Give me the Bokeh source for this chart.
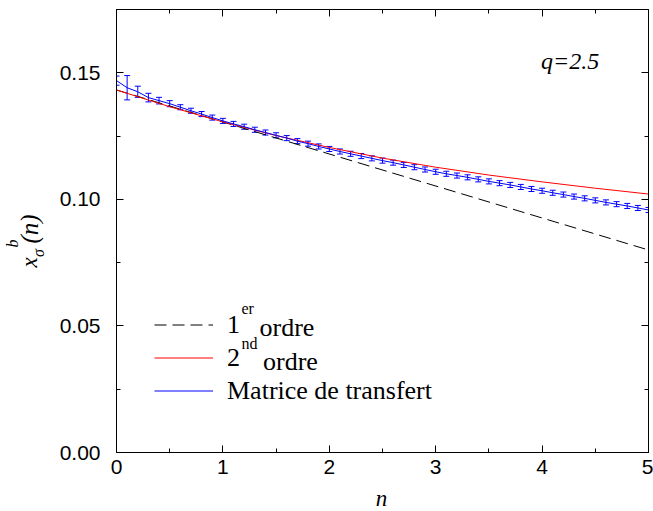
import math
from bokeh.plotting import figure
from bokeh.layouts import row, column
from bokeh.models import (Range1d, LinearAxis, FixedTicker, NumeralTickFormatter,
                          ColumnDataSource, Whisker, TeeHead, Legend, LegendItem, Label)
from bokeh.embed import file_html
from bokeh.resources import INLINE

# ---------------- data ----------------
n_mt = [0.0, 0.1, 0.2, 0.3, 0.4, 0.5, 0.6, 0.7, 0.8, 0.9,
        1.0, 1.1, 1.2, 1.3, 1.4, 1.5, 1.6, 1.7, 1.8, 1.9,
        2.0, 2.1, 2.2, 2.3, 2.4, 2.5, 2.6, 2.7, 2.8, 2.9,
        3.0, 3.1, 3.2, 3.3, 3.4, 3.5, 3.6, 3.7, 3.8, 3.9,
        4.0, 4.1, 4.2, 4.3, 4.4, 4.5, 4.6, 4.7, 4.8, 4.9, 5.0]
x_mt = [0.1469, 0.1441, 0.1425, 0.1402, 0.1390, 0.1378, 0.1364, 0.1350, 0.1337, 0.1323,
        0.1310, 0.1298, 0.1287, 0.1275, 0.1264, 0.1253, 0.1242, 0.1230, 0.1220, 0.1209,
        0.1199, 0.1189, 0.1180, 0.1171, 0.1162, 0.1153, 0.1145, 0.1136, 0.1127, 0.1118,
        0.1109, 0.1101, 0.1094, 0.1087, 0.1079, 0.1071, 0.1064, 0.1057, 0.1049, 0.1041,
        0.1034, 0.1026, 0.1019, 0.1011, 0.1004, 0.0996, 0.0988, 0.0981, 0.0974, 0.0966, 0.0958]
err_mt = [0.0018, 0.0048, 0.0022, 0.0017, 0.0013, 0.0012, 0.0010, 0.0010, 0.0010, 0.0010,
          0.0010, 0.0010, 0.0010, 0.0010, 0.0010, 0.0010, 0.0010, 0.0010, 0.0010, 0.0010,
          0.0010, 0.0010, 0.0010, 0.0010, 0.0010, 0.0010, 0.0010, 0.0010, 0.0010, 0.0010,
          0.0010, 0.0010, 0.0010, 0.0010, 0.0010, 0.0010, 0.0010, 0.0010, 0.0010, 0.0010,
          0.0010, 0.0010, 0.0010, 0.0010, 0.0010, 0.0010, 0.0010, 0.0010, 0.0010, 0.0010, 0.0010]

n_first = [0.0, 5.0]
x_first = [0.1432, 0.0800]

n_second = [0.0, 0.5, 1.0, 1.5, 2.0, 2.5, 3.0, 3.5, 4.0, 4.5, 5.0]
x_second = [0.1432, 0.1366, 0.1306, 0.1252, 0.1205, 0.1163, 0.1127, 0.1096, 0.1069, 0.1044, 0.1021]

x_ticks = [0, 1, 2, 3, 4, 5]
x_minor = [0.5, 1.5, 2.5, 3.5, 4.5]
y_ticks = [0.0, 0.05, 0.10, 0.15]
y_minor = [0.025, 0.075, 0.125]

legend_labels = ["1", "2", "Matrice de transfert"]
legend_sups = ["er", "nd"]
legend_rest = "ordre"
annotation_q = "q=2.5"
x_title = "n"

SANS = "Liberation Sans"
SERIF = "Liberation Serif"
MID = 0.3  # Bokeh puts the label anchor at the text middle: baseline ~0.3 em below it

# ---------------- main figure ----------------
LEFT_W = 50
BOTTOM_H = 26
p = figure(width=653 - LEFT_W, height=511 - BOTTOM_H, output_backend="svg", toolbar_location=None,
           x_range=Range1d(0, 5), y_range=Range1d(0, 0.175),
           x_axis_type=None, y_axis_type=None,
           min_border_left=116 - LEFT_W, min_border_right=5, min_border_top=9,
           min_border_bottom=33)
p.background_fill_color = "white"
p.border_fill_color = "white"
p.outline_line_color = "black"
p.xgrid.visible = False
p.ygrid.visible = False


def style_axis(ax, ticks, minor, show_labels, standoff=0):
    ax.ticker = FixedTicker(ticks=ticks, minor_ticks=minor)
    ax.axis_line_color = "black"
    ax.major_tick_line_color = "black"
    ax.minor_tick_line_color = "black"
    ax.major_tick_in = 7
    ax.major_tick_out = 0
    ax.minor_tick_in = 4
    ax.minor_tick_out = 0
    if show_labels:
        ax.major_label_text_font = SANS
        ax.major_label_text_font_size = "21px"
        ax.major_label_text_color = "black"
        ax.major_label_standoff = standoff
    else:
        ax.major_label_text_font_size = "0px"
        ax.major_label_standoff = 0
        ax.major_label_text_alpha = 0


ax_b = LinearAxis()
style_axis(ax_b, x_ticks, x_minor, True, 7)
ax_l = LinearAxis(formatter=NumeralTickFormatter(format="0.00"))
style_axis(ax_l, y_ticks, y_minor, True, 16)
ax_t = LinearAxis()
style_axis(ax_t, x_ticks, x_minor, False)
ax_r = LinearAxis()
style_axis(ax_r, y_ticks, y_minor, False)
p.add_layout(ax_b, "below")
p.add_layout(ax_l, "left")
p.add_layout(ax_t, "above")
p.add_layout(ax_r, "right")

# ---------------- curves ----------------
r1 = p.line(n_first, x_first, line_color="black", line_width=1, line_dash="12 6")
r2 = p.line(n_second, x_second, line_color="#ff0000", line_width=1)
src = ColumnDataSource(dict(
    n=n_mt, x=x_mt,
    lo=[a - e for a, e in zip(x_mt, err_mt)],
    hi=[a + e for a, e in zip(x_mt, err_mt)],
))
r3 = p.line("n", "x", source=src, line_color="#0000ff", line_width=1)
wh = Whisker(base="n", lower="lo", upper="hi", source=src,
             line_color="#0000ff", line_width=1,
             lower_head=TeeHead(size=6, line_color="#0000ff", line_width=1),
             upper_head=TeeHead(size=6, line_color="#0000ff", line_width=1))
p.add_layout(wh)

# ---------------- legend ----------------
legend = Legend(items=[LegendItem(label=legend_labels[0], renderers=[r1]),
                       LegendItem(label=legend_labels[1], renderers=[r2]),
                       LegendItem(label=legend_labels[2], renderers=[r3])],
                location=(38, 45), orientation="vertical",
                glyph_width=59, glyph_height=33, label_height=33, spacing=0,
                label_standoff=14, padding=0, margin=0,
                label_text_font=SERIF, label_text_font_size="26px", label_text_color="black",
                border_line_alpha=0, background_fill_alpha=0)
p.add_layout(legend)


def px2x(px):
    return (px - 116) / 106.4


def py2y(py):
    return (452 - py) / 2531.0


def lab_main(text, px, base_py, size, style="normal"):
    py = base_py - MID * size
    p.add_layout(Label(x=px2x(px), y=py2y(py), text=text,
                       text_font=SERIF, text_font_size=f"{size}px", text_font_style=style,
                       text_color="black", text_align="left", text_baseline="alphabetic"))


lab_main(legend_sups[0], 241, 313, 16)
lab_main(legend_rest, 259, 334.5, 26)
lab_main(legend_sups[1], 241, 348, 16)
lab_main(legend_rest, 262.5, 368.5, 26)
lab_main(annotation_q, 540.5, 67.3, 24, "italic")


# ---------------- strips for the axis titles (ranges in page pixels) ----------------
def strip(w, h, xr, yr):
    f = figure(width=w, height=h, output_backend="svg", toolbar_location=None,
               x_range=Range1d(*xr), y_range=Range1d(*yr),
               x_axis_type=None, y_axis_type=None,
               min_border_left=0, min_border_right=0, min_border_top=0, min_border_bottom=0)
    f.outline_line_color = None
    f.xgrid.visible = False
    f.ygrid.visible = False
    f.background_fill_color = "white"
    f.border_fill_color = "white"
    return f


yl = strip(LEFT_W, 511, (0, LEFT_W), (511, 0))
half_pi = math.pi / 2


def lab_rot(text, base_px, start_py, size):
    yl.add_layout(Label(x=base_px - MID * size, y=start_py, text=text, angle=half_pi,
                        text_font=SERIF, text_font_size=f"{size}px", text_font_style="italic",
                        text_color="black", text_align="left", text_baseline="alphabetic"))


lab_rot("x", 36, 267, 23)
lab_rot("σ", 43, 256.5, 16)
lab_rot("b", 17, 247, 16)
lab_rot("(n)", 36, 243, 25)

# bottom strip: its frame lines up with the main frame (page x 116..648)
xl = strip(653 - LEFT_W, BOTTOM_H, (116, 648), (511, 511 - BOTTOM_H))
xl.add_layout(Label(x=381, y=505 - MID * 23, text=x_title, text_font=SERIF,
                    text_font_size="23px", text_font_style="italic", text_color="black",
                    text_align="center", text_baseline="alphabetic"))

layout = row(yl, column(p, xl, spacing=0), spacing=0)
open("out.html", "w").write(file_html(layout, INLINE))
